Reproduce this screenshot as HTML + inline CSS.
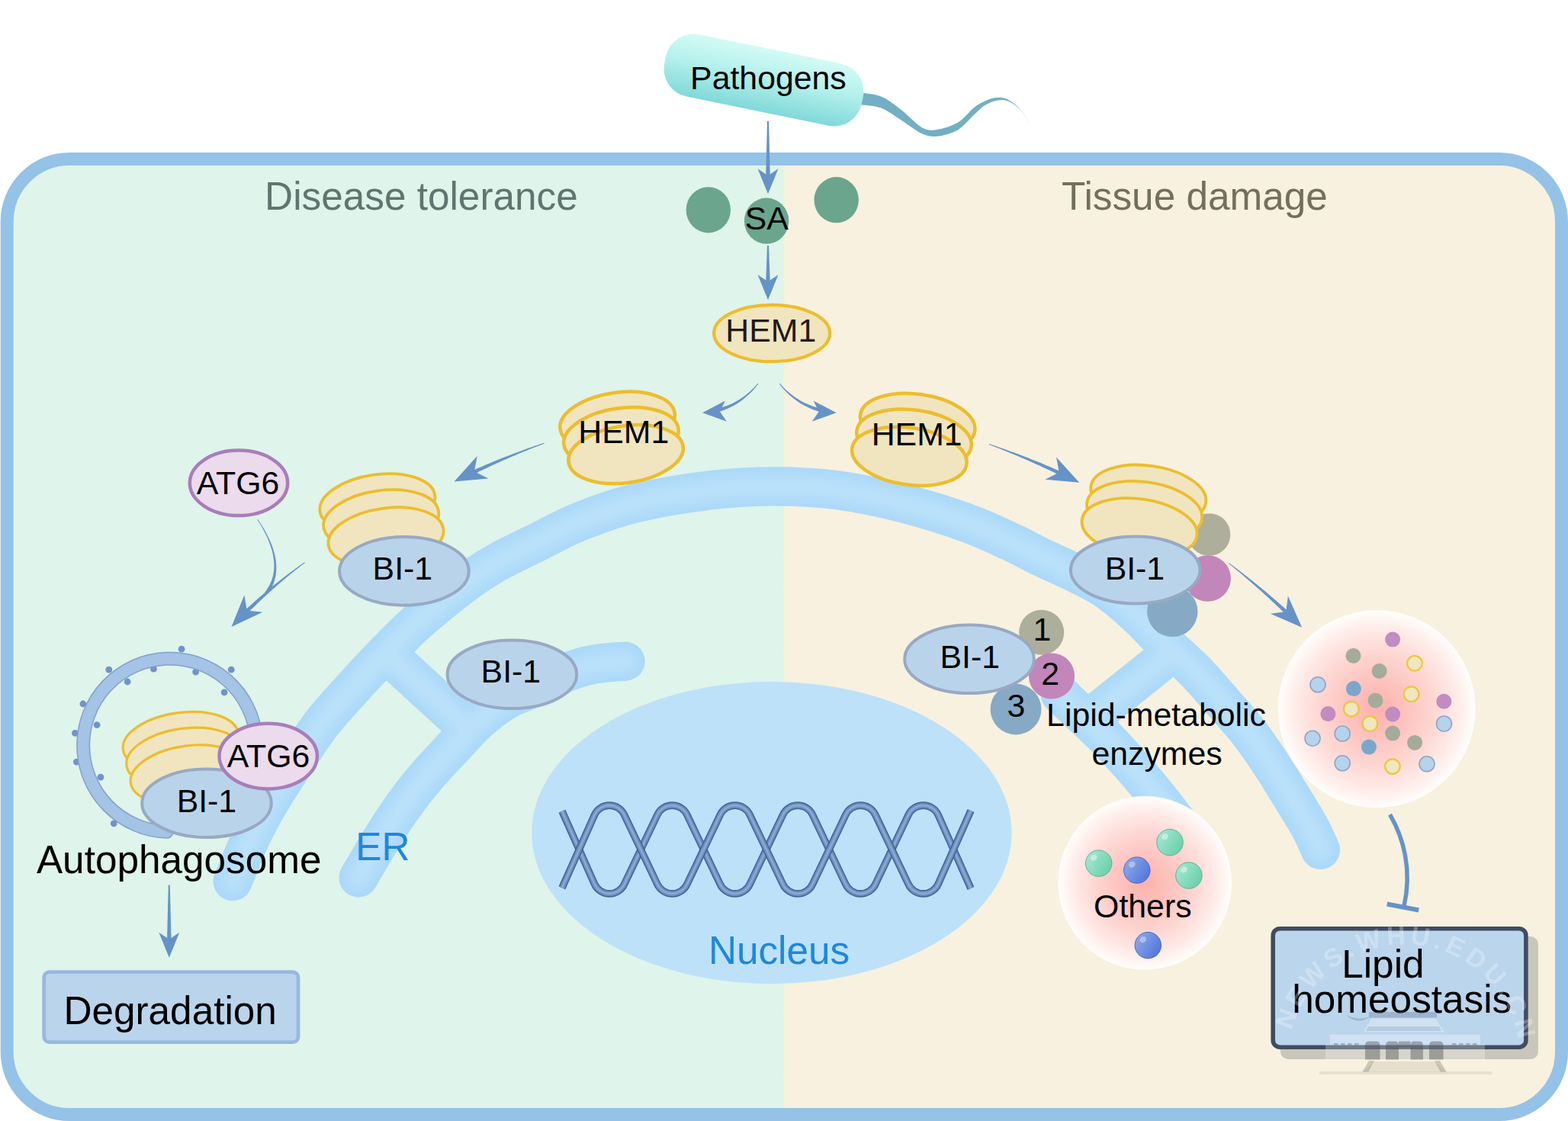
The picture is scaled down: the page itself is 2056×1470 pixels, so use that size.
<!DOCTYPE html>
<html lang="en"><head><meta charset="utf-8"><title>HEM1 model</title>
<style>
html,body{margin:0;padding:0;background:#fff;}
body{width:2056px;height:1470px;overflow:hidden;}
svg{display:block;font-family:"Liberation Sans", sans-serif;}
</style></head><body>
<svg width="2056" height="1470" viewBox="0 0 2056 1470">
<defs>
<clipPath id="cellclip"><rect x="9.5" y="208.5" width="2038" height="1253" rx="82" ry="82"/></clipPath>
<linearGradient id="bact" gradientUnits="userSpaceOnUse" x1="0" y1="-42" x2="0" y2="42">
<stop offset="0" stop-color="#d3fbf6"/><stop offset="0.45" stop-color="#b4f0ec"/><stop offset="1" stop-color="#7fd9d9"/></linearGradient>
<radialGradient id="drop" cx="0.5" cy="0.5" r="0.5">
<stop offset="0" stop-color="#fdb1ab"/><stop offset="0.3" stop-color="#fdc3be"/><stop offset="0.6" stop-color="#fed8d4"/><stop offset="0.85" stop-color="#ffeeeb"/><stop offset="0.96" stop-color="#fffaf8"/><stop offset="1" stop-color="#fffdfc"/></radialGradient>
<linearGradient id="gball" x1="0" y1="0.2" x2="1" y2="0.8">
<stop offset="0" stop-color="#a5e8d2"/><stop offset="1" stop-color="#67cfa9"/></linearGradient>
<linearGradient id="bball" x1="0" y1="0.2" x2="1" y2="0.8">
<stop offset="0" stop-color="#8fa9ea"/><stop offset="1" stop-color="#4f74d9"/></linearGradient>
<linearGradient id="bgsplit" gradientUnits="userSpaceOnUse" x1="1025.5" y1="0" x2="1030" y2="0"><stop offset="0" stop-color="#dff4ea"/><stop offset="1" stop-color="#f8f1df"/></linearGradient>
<filter id="blur5" x="-20%" y="-20%" width="140%" height="140%"><feGaussianBlur stdDeviation="7"/></filter>
<filter id="blur1" x="-20%" y="-20%" width="140%" height="140%"><feGaussianBlur stdDeviation="1.2"/></filter>
</defs>
<g clip-path="url(#cellclip)">
<rect x="0" y="200" width="2056" height="1270" fill="url(#bgsplit)"/>
</g>
<rect x="9.2" y="208.5" width="2038.3" height="1253" rx="82" ry="82" fill="none" stroke="#95c2e7" stroke-width="17"/>
<g fill="none" stroke-linecap="round" stroke-linejoin="round">
<path d="M305.1 1155.7C308.6 1147.1 319.3 1119.5 326.3 1104.1C333.3 1088.7 338.2 1079 347.1 1063.3C356.1 1047.6 367.6 1029 380 1010C392.4 991 407.5 967.3 421.6 949C435.7 930.7 453.5 912.3 464.5 900C475.5 887.7 477.2 885.9 487.4 875.3C497.6 864.6 513.4 847.9 525.5 836.1C537.6 824.3 544.2 817.6 560 804.5C575.8 791.4 603.3 769.4 620 757.5C636.7 745.6 646.2 740.6 660 733C673.8 725.4 685.8 720.2 702.5 712C719.2 703.8 738.4 692.7 760 684C781.6 675.3 803.7 666.8 832 660C860.3 653.2 899.5 646.7 930 643C960.5 639.3 986.7 637.8 1015 637.8C1043.3 637.8 1070.8 639 1100 643C1129.2 647 1161.7 654.2 1190 661.5C1218.3 668.8 1246.9 678.1 1270 686.5C1293.1 694.9 1313 704.8 1328.5 712C1344 719.2 1349.8 723.1 1363 729.5C1376.2 735.9 1393.5 743.2 1408 750.5C1422.5 757.8 1436.3 763.8 1450 773C1463.7 782.2 1477.5 794.7 1490 806C1502.5 817.3 1512.3 828.8 1525 841C1537.7 853.2 1552.8 865.6 1566 879C1579.2 892.4 1591.8 907.7 1604 921.6C1616.2 935.5 1628.4 948.8 1639 962.4C1649.6 976 1658.5 989.7 1667.5 1003.3C1676.5 1016.9 1684.7 1030.5 1693 1044.1C1701.3 1057.7 1711.1 1073.2 1717.5 1084.9C1723.9 1096.6 1729.2 1109.6 1731.5 1114.5" stroke="#acd9f9" stroke-width="51.2"/>
<path d="M470 1151C474.5 1143.4 487.6 1120.6 497 1105.5C506.4 1090.4 515.6 1075.3 526.1 1060.6C536.6 1045.8 548 1031.1 560 1017C572 1002.9 586.9 987.8 598.1 975.9C609.3 964 616.5 955.1 627 945.7C637.5 936.3 651 926 661.4 919.5C671.8 913 678.9 911.5 689.5 906.4C700.1 901.3 712.6 894.3 725 889C737.4 883.7 752.3 877.8 764 874.5C775.7 871.2 785.7 870.2 795 869C804.3 867.8 815.8 867.5 820 867.2" stroke="#acd9f9" stroke-width="51.2"/>
<path d="M1390 910C1393.1 913 1398.9 918.8 1408.8 928.3C1418.7 937.8 1435.2 952.3 1449.4 966.9C1463.6 981.5 1480.4 1000.4 1493.8 1015.9C1507.2 1031.4 1521 1048.5 1530 1060C1539 1071.5 1545 1080.8 1548 1085" stroke="#acd9f9" stroke-width="51.2"/>
<path d="M506 856.4L612 953.5" stroke="#acd9f9" stroke-width="52.5" stroke-linecap="butt"/>
<path d="M1537.4 855.4L1426.5 944" stroke="#acd9f9" stroke-width="52.2" stroke-linecap="butt"/>
<g filter="url(#blur5)">
<path d="M305.1 1155.7C308.6 1147.1 319.3 1119.5 326.3 1104.1C333.3 1088.7 338.2 1079 347.1 1063.3C356.1 1047.6 367.6 1029 380 1010C392.4 991 407.5 967.3 421.6 949C435.7 930.7 453.5 912.3 464.5 900C475.5 887.7 477.2 885.9 487.4 875.3C497.6 864.6 513.4 847.9 525.5 836.1C537.6 824.3 544.2 817.6 560 804.5C575.8 791.4 603.3 769.4 620 757.5C636.7 745.6 646.2 740.6 660 733C673.8 725.4 685.8 720.2 702.5 712C719.2 703.8 738.4 692.7 760 684C781.6 675.3 803.7 666.8 832 660C860.3 653.2 899.5 646.7 930 643C960.5 639.3 986.7 637.8 1015 637.8C1043.3 637.8 1070.8 639 1100 643C1129.2 647 1161.7 654.2 1190 661.5C1218.3 668.8 1246.9 678.1 1270 686.5C1293.1 694.9 1313 704.8 1328.5 712C1344 719.2 1349.8 723.1 1363 729.5C1376.2 735.9 1393.5 743.2 1408 750.5C1422.5 757.8 1436.3 763.8 1450 773C1463.7 782.2 1477.5 794.7 1490 806C1502.5 817.3 1512.3 828.8 1525 841C1537.7 853.2 1552.8 865.6 1566 879C1579.2 892.4 1591.8 907.7 1604 921.6C1616.2 935.5 1628.4 948.8 1639 962.4C1649.6 976 1658.5 989.7 1667.5 1003.3C1676.5 1016.9 1684.7 1030.5 1693 1044.1C1701.3 1057.7 1711.1 1073.2 1717.5 1084.9C1723.9 1096.6 1729.2 1109.6 1731.5 1114.5" stroke="#bbe1fa" stroke-width="25.6"/>
<path d="M470 1151C474.5 1143.4 487.6 1120.6 497 1105.5C506.4 1090.4 515.6 1075.3 526.1 1060.6C536.6 1045.8 548 1031.1 560 1017C572 1002.9 586.9 987.8 598.1 975.9C609.3 964 616.5 955.1 627 945.7C637.5 936.3 651 926 661.4 919.5C671.8 913 678.9 911.5 689.5 906.4C700.1 901.3 712.6 894.3 725 889C737.4 883.7 752.3 877.8 764 874.5C775.7 871.2 785.7 870.2 795 869C804.3 867.8 815.8 867.5 820 867.2" stroke="#bbe1fa" stroke-width="25.6"/>
<path d="M1390 910C1393.1 913 1398.9 918.8 1408.8 928.3C1418.7 937.8 1435.2 952.3 1449.4 966.9C1463.6 981.5 1480.4 1000.4 1493.8 1015.9C1507.2 1031.4 1521 1048.5 1530 1060C1539 1071.5 1545 1080.8 1548 1085" stroke="#bbe1fa" stroke-width="25.6"/>
<path d="M506 856.4L612 953.5" stroke="#bbe1fa" stroke-width="26.2"/>
<path d="M1537.4 855.4L1426.5 944" stroke="#bbe1fa" stroke-width="26.1"/>
</g></g>
<ellipse cx="1011.9" cy="1092" rx="314.7" ry="198.1" fill="#bde1f9"/>
<g fill="none">
<path d="M737 1063.7L779.5 1159.2A21.5 21.5 0 0 0 818.7 1159.2L861.8 1068.8A21.5 21.5 0 0 1 901 1068.8L944.1 1159.2A21.5 21.5 0 0 0 983.3 1159.2L1026.4 1068.8A21.5 21.5 0 0 1 1065.6 1068.8L1108.7 1159.2A21.5 21.5 0 0 0 1147.9 1159.2L1191 1068.8A21.5 21.5 0 0 1 1230.2 1068.8L1273 1165" stroke="#3f6498" stroke-width="9.6"/>
<path d="M737 1063.7L779.5 1159.2A21.5 21.5 0 0 0 818.7 1159.2L861.8 1068.8A21.5 21.5 0 0 1 901 1068.8L944.1 1159.2A21.5 21.5 0 0 0 983.3 1159.2L1026.4 1068.8A21.5 21.5 0 0 1 1065.6 1068.8L1108.7 1159.2A21.5 21.5 0 0 0 1147.9 1159.2L1191 1068.8A21.5 21.5 0 0 1 1230.2 1068.8L1273 1165" stroke="#6d8fbe" stroke-width="6.6"/>
<path d="M737 1063.7L779.5 1159.2A21.5 21.5 0 0 0 818.7 1159.2L861.8 1068.8A21.5 21.5 0 0 1 901 1068.8L944.1 1159.2A21.5 21.5 0 0 0 983.3 1159.2L1026.4 1068.8A21.5 21.5 0 0 1 1065.6 1068.8L1108.7 1159.2A21.5 21.5 0 0 0 1147.9 1159.2L1191 1068.8A21.5 21.5 0 0 1 1230.2 1068.8L1273 1165" stroke="#8aa9d3" stroke-width="2.6"/>
<path d="M737 1164.3L779.5 1068.8A21.5 21.5 0 0 1 818.7 1068.8L861.8 1159.2A21.5 21.5 0 0 0 901 1159.2L944.1 1068.8A21.5 21.5 0 0 1 983.3 1068.8L1026.4 1159.2A21.5 21.5 0 0 0 1065.6 1159.2L1108.7 1068.8A21.5 21.5 0 0 1 1147.9 1068.8L1191 1159.2A21.5 21.5 0 0 0 1230.2 1159.2L1273 1063" stroke="#3f6498" stroke-width="9.6"/>
<path d="M737 1164.3L779.5 1068.8A21.5 21.5 0 0 1 818.7 1068.8L861.8 1159.2A21.5 21.5 0 0 0 901 1159.2L944.1 1068.8A21.5 21.5 0 0 1 983.3 1068.8L1026.4 1159.2A21.5 21.5 0 0 0 1065.6 1159.2L1108.7 1068.8A21.5 21.5 0 0 1 1147.9 1068.8L1191 1159.2A21.5 21.5 0 0 0 1230.2 1159.2L1273 1063" stroke="#6d8fbe" stroke-width="6.6"/>
<path d="M737 1164.3L779.5 1068.8A21.5 21.5 0 0 1 818.7 1068.8L861.8 1159.2A21.5 21.5 0 0 0 901 1159.2L944.1 1068.8A21.5 21.5 0 0 1 983.3 1068.8L1026.4 1159.2A21.5 21.5 0 0 0 1065.6 1159.2L1108.7 1068.8A21.5 21.5 0 0 1 1147.9 1068.8L1191 1159.2A21.5 21.5 0 0 0 1230.2 1159.2L1273 1063" stroke="#8aa9d3" stroke-width="2.6"/>
</g>
<text x="928.9" y="1264.3" font-size="51.3" fill="#1e88dc" text-anchor="start">Nucleus</text>
<text x="466.2" y="1127.8" font-size="51.3" fill="#1e88dc" text-anchor="start">ER</text>
<text x="347.1" y="275" font-size="51.3" fill="#62746f" text-anchor="start">Disease tolerance</text>
<text x="1392" y="275" font-size="51.3" fill="#736f5e" text-anchor="start">Tissue damage</text>
<path d="M1124 121.6C1129.1 122.4 1144.9 122.6 1154.5 126.3C1164.1 130 1172.6 137.2 1181.7 144C1190.8 150.8 1201 162.9 1208.9 167.2C1216.9 171.5 1221.5 171.1 1229.4 169.9C1237.4 168.8 1248.7 165.1 1256.6 160.3C1264.5 155.5 1271.3 145.8 1277 141.3C1282.7 136.8 1286.2 135.3 1290.7 133.1C1295.2 130.9 1299.8 129 1304.3 128.3C1308.8 127.6 1313.4 127.5 1317.9 129C1322.4 130.5 1327.4 133.8 1331.5 137.2C1335.6 140.6 1339.3 145.4 1342.4 149.5C1345.5 153.6 1348.7 159.9 1350 162L1350 162C1348.7 160 1345.5 153.8 1342.4 149.9C1339.3 146 1335.6 141.4 1331.5 138.3C1327.4 135.2 1322.4 132.5 1317.9 131.5C1313.4 130.5 1308.8 131.2 1304.3 132.4C1299.8 133.6 1295.2 135.5 1290.7 138.6C1286.2 141.7 1282.7 145.6 1277 150.8C1271.3 156 1264.5 165.2 1256.6 169.9C1248.7 174.6 1237.4 177.8 1229.4 178.7C1221.5 179.6 1216.9 178.8 1208.9 175.3C1201 171.8 1190.8 163.3 1181.7 157.6C1172.6 151.9 1164.1 144.7 1154.5 141.3C1144.9 137.9 1129.1 137.7 1124 137Z" fill="#72afc4"/>
<g transform="translate(1001.5 105) rotate(11.6)"><rect x="-132" y="-41.5" width="264" height="83" rx="37" ry="37" fill="url(#bact)"/></g>
<text x="905.1" y="117" font-size="42.8" fill="#000" text-anchor="start">Pathogens</text>
<ellipse cx="928.8" cy="275.3" rx="29.2" ry="30.1" fill="#6ba58e"/>
<ellipse cx="1005.1" cy="289.7" rx="29.2" ry="30.1" fill="#6ba58e"/>
<ellipse cx="1096.7" cy="262.2" rx="29.2" ry="30.1" fill="#6ba58e"/>
<text x="976.8" y="300.6" font-size="42.8" fill="#000" text-anchor="start">SA</text>
<g fill="#6593c8"><path d="M1006 158.7L1005.9 161.8L1005.9 164.8L1005.8 167.9L1005.7 171L1005.6 174L1005.6 177.1L1005.5 180.2L1005.4 183.2L1005.3 186.3L1005.3 189.4L1005.2 192.4L1005.1 195.5L1005 198.6L1005 201.6L1004.9 204.7L1004.8 207.8L1004.7 210.8L1004.6 213.9L1004.6 217L1004.5 220L1004.4 223.1L1004.4 226.2L1004.3 229.2L1004.2 232.3L1009.8 232.3L1009.7 229.2L1009.6 226.2L1009.6 223.1L1009.5 220L1009.4 217L1009.4 213.9L1009.3 210.8L1009.2 207.8L1009.1 204.7L1009 201.6L1009 198.6L1008.9 195.5L1008.8 192.4L1008.8 189.4L1008.7 186.3L1008.6 183.2L1008.5 180.2L1008.5 177.1L1008.4 174L1008.3 171L1008.2 167.9L1008.1 164.8L1008.1 161.8L1008 158.7Z"/><path d="M1007 254.3L993.5 221.3L1007 230.3L1020.5 221.3Z"/></g>
<g fill="#6593c8"><path d="M1006 322L1005.9 324.1L1005.9 326.1L1005.8 328.2L1005.7 330.3L1005.6 332.3L1005.5 334.4L1005.5 336.5L1005.4 338.5L1005.3 340.6L1005.2 342.6L1005.2 344.7L1005.1 346.8L1005 348.8L1005 350.9L1004.9 353L1004.8 355L1004.7 357.1L1004.6 359.2L1004.6 361.2L1004.5 363.3L1004.4 365.4L1004.4 367.4L1004.3 369.5L1004.2 371.6L1009.8 371.6L1009.7 369.5L1009.6 367.4L1009.6 365.4L1009.5 363.3L1009.4 361.2L1009.4 359.2L1009.3 357.1L1009.2 355L1009.1 353L1009.1 350.9L1009 348.8L1008.9 346.8L1008.8 344.7L1008.7 342.6L1008.7 340.6L1008.6 338.5L1008.5 336.5L1008.5 334.4L1008.4 332.3L1008.3 330.3L1008.2 328.2L1008.2 326.1L1008.1 324.1L1008 322Z"/><path d="M1007 393.3L993.5 360.3L1007 369.3L1020.5 360.3Z"/></g>
<ellipse cx="1012.1" cy="437" rx="76" ry="37.2" fill="#f0e5bf" stroke="#ecbd2e" stroke-width="4.2"/>
<text x="951.3" y="447.8" font-size="42.8" fill="#231815" text-anchor="start">HEM1</text>
<g fill="#6593c8"><path d="M993.6 502.7L991.8 504.8L989.9 506.9L988 508.9L986 510.8L984.1 512.7L982.1 514.5L980 516.2L978 517.9L975.9 519.5L973.8 521L971.6 522.5L969.4 523.9L967.2 525.2L965 526.5L962.7 527.7L960.4 528.9L958.1 529.9L955.7 531L953.3 531.9L950.9 532.8L948.5 533.6L946 534.4L943.5 535.1L941 535.7L942.2 540.1L944.8 539.3L947.3 538.5L949.9 537.5L952.4 536.5L954.8 535.5L957.2 534.3L959.6 533.1L962 531.9L964.3 530.6L966.6 529.2L968.8 527.7L971 526.2L973.1 524.7L975.3 523L977.3 521.3L979.4 519.6L981.4 517.8L983.3 515.9L985.3 513.9L987.2 511.9L989 509.9L990.9 507.7L992.6 505.6L994.4 503.3Z"/><path d="M921 541.3L951 525.5L943.9 539.7L952.9 552.7Z"/></g>
<g fill="#6593c8"><path d="M1021.6 503.3L1023.4 505.6L1025.3 507.8L1027.2 509.9L1029.1 512L1031.1 514L1033.1 516L1035.1 517.9L1037.2 519.7L1039.3 521.5L1041.5 523.2L1043.7 524.8L1045.9 526.4L1048.2 527.9L1050.5 529.4L1052.8 530.7L1055.2 532.1L1057.6 533.3L1060 534.5L1062.5 535.6L1065.1 536.7L1067.6 537.7L1070.2 538.6L1072.9 539.5L1075.5 540.3L1076.7 535.8L1074.1 535.2L1071.5 534.5L1069 533.8L1066.5 532.9L1064 532.1L1061.5 531.1L1059.1 530.1L1056.7 529L1054.3 527.9L1052 526.7L1049.7 525.4L1047.4 524L1045.2 522.6L1042.9 521.2L1040.8 519.6L1038.6 518L1036.5 516.3L1034.4 514.6L1032.3 512.8L1030.2 510.9L1028.2 508.9L1026.3 506.9L1024.3 504.8L1022.4 502.7Z"/><path d="M1096.6 541.3L1064.7 552.7L1073.7 539.7L1066.6 525.6Z"/></g>
<ellipse cx="809.6" cy="552.2" rx="75.8" ry="37.4" fill="#f0e5bf" stroke="#ecbd2e" stroke-width="4.5" transform="rotate(-8 809.6 552.2)"/>
<ellipse cx="814.4" cy="572.6" rx="75.8" ry="37.4" fill="#f0e5bf" stroke="#ecbd2e" stroke-width="4.5" transform="rotate(-8 814.4 572.6)"/>
<ellipse cx="820.6" cy="595.7" rx="75.8" ry="37.4" fill="#f0e5bf" stroke="#ecbd2e" stroke-width="4.5" transform="rotate(-8 820.6 595.7)"/>
<text x="758.3" y="581.4" font-size="42.8" fill="#000" text-anchor="start">HEM1</text>
<ellipse cx="1203.2" cy="554.3" rx="75.8" ry="37.4" fill="#f0e5bf" stroke="#ecbd2e" stroke-width="4.5" transform="rotate(8 1203.2 554.3)"/>
<ellipse cx="1198.5" cy="575.1" rx="75.8" ry="37.4" fill="#f0e5bf" stroke="#ecbd2e" stroke-width="4.5" transform="rotate(8 1198.5 575.1)"/>
<ellipse cx="1192.3" cy="598.3" rx="75.8" ry="37.4" fill="#f0e5bf" stroke="#ecbd2e" stroke-width="4.5" transform="rotate(8 1192.3 598.3)"/>
<text x="1142.7" y="584.1" font-size="42.8" fill="#000" text-anchor="start">HEM1</text>
<g fill="#6593c8"><path d="M713.3 580.7L709.3 582.1L705.3 583.4L701.3 584.8L697.3 586.2L693.3 587.6L689.3 589.1L685.4 590.5L681.4 592L677.4 593.4L673.5 594.9L669.5 596.4L665.6 598L661.6 599.5L657.7 601.1L653.8 602.6L649.8 604.2L645.9 605.8L642 607.5L638.1 609.1L634.2 610.7L630.3 612.4L626.4 614.1L622.6 615.8L618.7 617.5L620.8 622.1L624.6 620.2L628.4 618.3L632.2 616.5L636 614.7L639.8 612.9L643.6 611.1L647.5 609.3L651.3 607.6L655.1 605.9L659 604.1L662.8 602.4L666.7 600.7L670.6 599.1L674.5 597.4L678.3 595.8L682.2 594.1L686.1 592.5L690.1 590.9L694 589.3L697.9 587.8L701.8 586.2L705.8 584.7L709.7 583.2L713.7 581.7Z"/><path d="M595.5 631.6L625.7 598.1L621.9 618.3L640.4 627.4Z"/></g>
<g fill="#6593c8"><path d="M1296.7 583.1L1300.7 584.6L1304.7 586.1L1308.6 587.6L1312.5 589.1L1316.5 590.7L1320.4 592.3L1324.3 593.9L1328.2 595.5L1332.1 597.1L1336 598.7L1339.9 600.4L1343.8 602.1L1347.7 603.7L1351.5 605.4L1355.4 607.2L1359.3 608.9L1363.1 610.6L1366.9 612.4L1370.8 614.2L1374.6 616L1378.4 617.8L1382.2 619.6L1386 621.4L1389.8 623.3L1391.9 618.8L1388.1 617.1L1384.2 615.4L1380.3 613.7L1376.4 612L1372.5 610.4L1368.5 608.7L1364.6 607.1L1360.7 605.5L1356.8 603.9L1352.8 602.4L1348.9 600.8L1344.9 599.3L1341 597.8L1337 596.3L1333.1 594.8L1329.1 593.3L1325.1 591.9L1321.1 590.4L1317.1 589L1313.1 587.6L1309.1 586.2L1305.1 584.8L1301.1 583.5L1297.1 582.1Z"/><path d="M1415.2 632.8L1370.3 628.7L1388.8 619.6L1385 599.4Z"/></g>
<ellipse cx="313" cy="633.3" rx="64.2" ry="42.8" fill="#ebdbec" stroke="#a87eb9" stroke-width="4.5"/><text x="257.7" y="647.7" font-size="42.8" fill="#000" text-anchor="start">ATG6</text>
<path d="M337.3 681.2L340.4 686.2L343.3 691.1L346 695.9L348.4 700.7L350.6 705.3L352.5 709.9L354.2 714.4L355.6 718.8L356.9 723.1L357.9 727.3L358.6 731.4L359.1 735.4L359.4 739.3L359.4 743.2L359.2 746.9L358.8 750.6L358.2 754.1L357.3 757.6L356.2 761L354.8 764.3L353.3 767.5L351.5 770.6L349.5 773.7L347.3 776.7L350.7 779.3L353 776.1L355 772.7L356.8 769.3L358.4 765.8L359.6 762.2L360.7 758.5L361.5 754.8L362 751L362.3 747.1L362.3 743.2L362.1 739.2L361.7 735.1L361 731L360.1 726.8L358.9 722.5L357.6 718.1L355.9 713.7L354.1 709.2L352 704.7L349.6 700L347.1 695.3L344.2 690.6L341.2 685.7L337.9 680.8Z" fill="#6593c8"/>
<g fill="#6593c8"><path d="M399.4 737.2L395.9 739.6L392.5 742.1L389 744.5L385.6 747L382.2 749.5L378.8 752.1L375.5 754.6L372.1 757.2L368.8 759.8L365.4 762.4L362.1 765L358.8 767.6L355.6 770.3L352.3 773L349.1 775.7L345.8 778.4L342.6 781.2L339.4 783.9L336.3 786.7L333.1 789.5L330 792.4L326.8 795.2L323.7 798.1L320.6 801L324.1 804.6L327.1 801.6L330.1 798.6L333.1 795.7L336.1 792.7L339.1 789.8L342.1 786.9L345.2 784L348.3 781.2L351.4 778.3L354.5 775.5L357.6 772.7L360.8 769.9L363.9 767.2L367.1 764.4L370.3 761.7L373.6 759L376.8 756.3L380.1 753.6L383.3 751L386.6 748.3L389.9 745.7L393.3 743.1L396.6 740.6L400 738Z"/><path d="M303.5 822L320.4 780.2L323.8 800.6L344.3 802.7Z"/></g>
<ellipse cx="494.9" cy="660" rx="76.1" ry="37.7" fill="#f0e5bf" stroke="#ecbd2e" stroke-width="3.8" transform="rotate(-8 494.9 660)"/>
<ellipse cx="499.7" cy="681" rx="76.1" ry="37.7" fill="#f0e5bf" stroke="#ecbd2e" stroke-width="3.8" transform="rotate(-8 499.7 681)"/>
<ellipse cx="506" cy="704.1" rx="76.1" ry="37.7" fill="#f0e5bf" stroke="#ecbd2e" stroke-width="3.8" transform="rotate(-8 506 704.1)"/>
<ellipse cx="529.9" cy="748.9" rx="84.8" ry="44.8" fill="#b9d4ea" stroke="#98a9c3" stroke-width="4"/><text x="488.6" y="760.2" font-size="42.8" fill="#000" text-anchor="start">BI-1</text>
<ellipse cx="671.4" cy="884.3" rx="84.8" ry="44.8" fill="#b9d4ea" stroke="#98a9c3" stroke-width="4"/><text x="630.6" y="895.2" font-size="42.8" fill="#000" text-anchor="start">BI-1</text>
<circle cx="238.1" cy="851.2" r="4.4" fill="#6f94c9"/>
<circle cx="142.8" cy="878.2" r="4.4" fill="#6f94c9"/>
<circle cx="201.4" cy="877.2" r="4.4" fill="#6f94c9"/>
<circle cx="256.6" cy="881.1" r="4.4" fill="#6f94c9"/>
<circle cx="303.2" cy="878.2" r="4.4" fill="#6f94c9"/>
<circle cx="167.1" cy="894" r="4.4" fill="#6f94c9"/>
<circle cx="294.1" cy="907.8" r="4.4" fill="#6f94c9"/>
<circle cx="108.9" cy="923" r="4.4" fill="#6f94c9"/>
<circle cx="127.1" cy="950.6" r="4.4" fill="#6f94c9"/>
<circle cx="98.5" cy="961.4" r="4.4" fill="#6f94c9"/>
<circle cx="100.4" cy="999.1" r="4.4" fill="#6f94c9"/>
<circle cx="132" cy="1019.2" r="4.4" fill="#6f94c9"/>
<circle cx="149.2" cy="1079.8" r="4.4" fill="#6f94c9"/>
<path d="M335.9 967.4A113.6 113.6 0 1 0 218.7 1090.8" fill="none" stroke="#7fa2cf" stroke-width="18" stroke-linecap="round"/>
<path d="M335.9 967.4A113.6 113.6 0 1 0 218.7 1090.8" fill="none" stroke="#a5c3e4" stroke-width="15" stroke-linecap="round"/>
<ellipse cx="237" cy="972.5" rx="76.4" ry="38" fill="#f0e5bf" stroke="#ecbd2e" stroke-width="3.2" transform="rotate(-8 237 972.5)"/>
<ellipse cx="241.6" cy="993.3" rx="76.4" ry="38" fill="#f0e5bf" stroke="#ecbd2e" stroke-width="3.2" transform="rotate(-8 241.6 993.3)"/>
<ellipse cx="247" cy="1016" rx="76.4" ry="38" fill="#f0e5bf" stroke="#ecbd2e" stroke-width="3.2" transform="rotate(-8 247 1016)"/>
<ellipse cx="271" cy="1053.2" rx="84.8" ry="44.8" fill="#b9d4ea" stroke="#98a9c3" stroke-width="4"/><text x="231.7" y="1064.6" font-size="42.8" fill="#000" text-anchor="start">BI-1</text>
<ellipse cx="351.7" cy="991.6" rx="64.2" ry="42.8" fill="#ebdbec" stroke="#a87eb9" stroke-width="4.5"/><text x="297.7" y="1006.4" font-size="42.8" fill="#000" text-anchor="start">ATG6</text>
<text x="47.9" y="1144.9" font-size="51.3" fill="#000" text-anchor="start">Autophagosome</text>
<g fill="#6593c8"><path d="M220.8 1160.6L220.7 1163.7L220.7 1166.7L220.6 1169.8L220.5 1172.8L220.4 1175.9L220.4 1178.9L220.3 1182L220.2 1185L220.1 1188.1L220.1 1191.1L220 1194.2L219.9 1197.3L219.8 1200.3L219.8 1203.4L219.7 1206.4L219.6 1209.5L219.5 1212.5L219.5 1215.6L219.4 1218.6L219.3 1221.7L219.2 1224.7L219.2 1227.8L219.1 1230.8L219 1233.9L224.6 1233.9L224.5 1230.8L224.5 1227.8L224.4 1224.7L224.3 1221.7L224.2 1218.6L224.2 1215.6L224.1 1212.5L224 1209.5L223.9 1206.4L223.9 1203.4L223.8 1200.3L223.7 1197.3L223.6 1194.2L223.6 1191.1L223.5 1188.1L223.4 1185L223.3 1182L223.2 1178.9L223.2 1175.9L223.1 1172.8L223 1169.8L223 1166.7L222.9 1163.7L222.8 1160.6Z"/><path d="M221.8 1255.8L208.3 1222.8L221.8 1231.8L235.3 1222.8Z"/></g>
<rect x="57.7" y="1274.7" width="333.3" height="92" rx="7" ry="7" fill="#bad4ec" stroke="#98b9de" stroke-width="4.8"/>
<text x="83.4" y="1343" font-size="51.3" fill="#000" text-anchor="start">Degradation</text>
<circle cx="1585.5" cy="701" r="27.8" fill="#adae9c"/>
<ellipse cx="1505.8" cy="648.4" rx="76.1" ry="37.7" fill="#f0e5bf" stroke="#ecbd2e" stroke-width="3.8" transform="rotate(8 1505.8 648.4)"/>
<ellipse cx="1500.6" cy="669.8" rx="76.1" ry="37.7" fill="#f0e5bf" stroke="#ecbd2e" stroke-width="3.8" transform="rotate(8 1500.6 669.8)"/>
<ellipse cx="1494.1" cy="692" rx="76.1" ry="37.7" fill="#f0e5bf" stroke="#ecbd2e" stroke-width="3.8" transform="rotate(8 1494.1 692)"/>
<circle cx="1583.6" cy="758.5" r="30.3" fill="#c286ba"/>
<circle cx="1537.3" cy="801.9" r="33.2" fill="#86a9c6"/>
<ellipse cx="1488.7" cy="747.5" rx="84.8" ry="44" fill="#b9d4ea" stroke="#98a9c3" stroke-width="4"/><text x="1448.7" y="759.6" font-size="42.8" fill="#000" text-anchor="start">BI-1</text>
<g fill="#6593c8"><path d="M1611 739L1614.3 741.6L1617.5 744.3L1620.8 747L1624 749.6L1627.2 752.3L1630.4 755L1633.6 757.7L1636.8 760.5L1640 763.2L1643.1 766L1646.3 768.7L1649.4 771.5L1652.6 774.3L1655.7 777.1L1658.8 779.9L1661.9 782.8L1664.9 785.6L1668 788.5L1671.1 791.3L1674.1 794.2L1677.1 797.1L1680.1 800L1683.1 802.9L1686.1 805.9L1689.6 802.2L1686.5 799.4L1683.3 796.6L1680.2 793.8L1677 791L1673.9 788.2L1670.7 785.5L1667.5 782.7L1664.3 780L1661.1 777.3L1657.9 774.6L1654.6 771.9L1651.4 769.2L1648.1 766.6L1644.9 763.9L1641.6 761.3L1638.3 758.7L1635 756.1L1631.7 753.5L1628.4 750.9L1625 748.3L1621.7 745.8L1618.3 743.2L1615 740.7L1611.6 738.2Z"/><path d="M1707.1 822.7L1665.8 804.7L1686.2 801.9L1688.9 781.4Z"/></g>
<circle cx="1365.7" cy="829.2" r="29.5" fill="#adae9c"/>
<circle cx="1332" cy="930" r="33.4" fill="#86a9c6"/>
<circle cx="1379" cy="886.5" r="30.1" fill="#c286ba"/>
<ellipse cx="1271" cy="864.3" rx="84.8" ry="44.8" fill="#b9d4ea" stroke="#98a9c3" stroke-width="4"/><text x="1232.5" y="875.6" font-size="42.8" fill="#000" text-anchor="start">BI-1</text>
<text x="1354.5" y="840" font-size="42.8" fill="#000" text-anchor="start">1</text>
<text x="1365.3" y="897.6" font-size="42.8" fill="#000" text-anchor="start">2</text>
<text x="1320.6" y="939.8" font-size="42.8" fill="#000" text-anchor="start">3</text>
<text x="1372.1" y="952" font-size="42.8" fill="#000" text-anchor="start">Lipid-metabolic</text>
<text x="1431.4" y="1002.6" font-size="42.8" fill="#000" text-anchor="start">enzymes</text>
<circle cx="1805.1" cy="929.8" r="129.5" fill="url(#drop)"/>
<circle cx="1826.1" cy="838.6" r="10" fill="#c08cc1"/>
<circle cx="1893.3" cy="919.8" r="10" fill="#c08cc1"/>
<circle cx="1741.4" cy="936.1" r="10" fill="#c08cc1"/>
<circle cx="1826.1" cy="936.5" r="10" fill="#c08cc1"/>
<circle cx="1774.5" cy="860" r="10" fill="#a4ab9b"/>
<circle cx="1808.6" cy="880" r="10" fill="#a4ab9b"/>
<circle cx="1803.5" cy="918.4" r="10" fill="#a4ab9b"/>
<circle cx="1826.1" cy="961.6" r="10" fill="#a4ab9b"/>
<circle cx="1855.1" cy="973.9" r="10" fill="#a4ab9b"/>
<circle cx="1774.9" cy="903.1" r="10" fill="#7ba6cc"/>
<circle cx="1794.9" cy="979.6" r="10" fill="#7ba6cc"/>
<circle cx="1728" cy="897.8" r="10" fill="#b6d3ec" stroke="#8fa5c6" stroke-width="1.6"/>
<circle cx="1893.5" cy="949" r="10" fill="#b6d3ec" stroke="#8fa5c6" stroke-width="1.6"/>
<circle cx="1721" cy="968.2" r="10" fill="#b6d3ec" stroke="#8fa5c6" stroke-width="1.6"/>
<circle cx="1760.2" cy="962" r="10" fill="#b6d3ec" stroke="#8fa5c6" stroke-width="1.6"/>
<circle cx="1760.2" cy="1000.8" r="10" fill="#b6d3ec" stroke="#8fa5c6" stroke-width="1.6"/>
<circle cx="1871" cy="1001.8" r="10" fill="#b6d3ec" stroke="#8fa5c6" stroke-width="1.6"/>
<circle cx="1854.9" cy="869.8" r="9.8" fill="#f0e6bf" stroke="#ebc83c" stroke-width="2.2"/>
<circle cx="1850.6" cy="910.2" r="9.8" fill="#f0e6bf" stroke="#ebc83c" stroke-width="2.2"/>
<circle cx="1771.8" cy="929.6" r="9.8" fill="#f0e6bf" stroke="#ebc83c" stroke-width="2.2"/>
<circle cx="1796.3" cy="949" r="9.8" fill="#f0e6bf" stroke="#ebc83c" stroke-width="2.2"/>
<circle cx="1825.9" cy="1005.1" r="9.8" fill="#f0e6bf" stroke="#ebc83c" stroke-width="2.2"/>
<circle cx="1501.2" cy="1157.8" r="113.8" fill="url(#drop)"/>
<circle cx="1534" cy="1104.6" r="17.2" fill="url(#gball)" stroke="#5fae93" stroke-width="1"/>
<ellipse cx="1527.5" cy="1097.1" rx="4.6" ry="3.8" fill="#c9f3e4" opacity="0.8" transform="rotate(-35 1527.5 1097.1)"/>
<circle cx="1440.7" cy="1132.1" r="17.2" fill="url(#gball)" stroke="#5fae93" stroke-width="1"/>
<ellipse cx="1434.2" cy="1124.6" rx="4.6" ry="3.8" fill="#c9f3e4" opacity="0.8" transform="rotate(-35 1434.2 1124.6)"/>
<circle cx="1558.9" cy="1148" r="17.2" fill="url(#gball)" stroke="#5fae93" stroke-width="1"/>
<ellipse cx="1552.4" cy="1140.5" rx="4.6" ry="3.8" fill="#c9f3e4" opacity="0.8" transform="rotate(-35 1552.4 1140.5)"/>
<circle cx="1490.8" cy="1141.1" r="17.2" fill="url(#bball)" stroke="#4a68c0" stroke-width="1"/>
<ellipse cx="1484.3" cy="1133.6" rx="4.6" ry="3.8" fill="#b9c8f2" opacity="0.8" transform="rotate(-35 1484.3 1133.6)"/>
<circle cx="1505.3" cy="1239.6" r="17.2" fill="url(#bball)" stroke="#4a68c0" stroke-width="1"/>
<ellipse cx="1498.8" cy="1232.1" rx="4.6" ry="3.8" fill="#b9c8f2" opacity="0.8" transform="rotate(-35 1498.8 1232.1)"/>
<text x="1434.1" y="1203" font-size="42.8" fill="#000" text-anchor="start">Others</text>
<path d="M1822.5 1068.1 C1840 1098 1852 1140 1841 1188" fill="none" stroke="#6593c8" stroke-width="5.5"/>
<path d="M1818.7 1185.5 L1860.3 1193.5" fill="none" stroke="#6593c8" stroke-width="6"/>
<rect x="1679" y="1228" width="338" height="161" rx="10" ry="10" fill="#9a9d98" opacity="0.5"/>
<rect x="1669.2" y="1217.7" width="331.7" height="155.5" rx="9" ry="9" fill="#bad5ec" stroke="#3f4c61" stroke-width="5.6"/>
<text x="1759.2" y="1281.6" font-size="51.3" fill="#000" text-anchor="start">Lipid</text>
<text x="1694.3" y="1328.2" font-size="51.3" fill="#000" text-anchor="start">homeostasis</text>
<path id="wmarc" d="M1692.1 1358A152.5 152.5 0 0 1 1992.7 1375.1" fill="none"/>
<g opacity="0.28">
<text font-size="34" font-weight="bold" fill="#fff" letter-spacing="5.6"><textPath href="#wmarc" startOffset="50%" text-anchor="middle">NEWS.WHU.EDU.CN</textPath></text>
</g>
<g>
<rect x="1795" y="1327" width="89" height="7.5" fill="#5d7191" opacity="0.32"/>
<path d="M1765 1331 Q1780 1345 1797 1333 Q1781 1339 1765 1331Z" fill="#5d7191" opacity="0.3"/>
<path d="M1798 1335.5 L1882.5 1335.5 L1894 1353.5 L1788 1353.5Z" fill="#fff" opacity="0.3"/>
<path d="M1794 1346 L1887 1346 L1890 1352 L1791 1352Z" fill="#7f93b0" opacity="0.28"/>
<rect x="1744" y="1356.5" width="197" height="13" fill="#fff" opacity="0.3"/>
<rect x="1738" y="1369.5" width="209" height="20" fill="#fff" opacity="0.26"/>
<path d="M1790 1389.5 L1790 1371 Q1790 1365.5 1795 1365.5 L1804.5 1365.5 Q1809.5 1365.5 1809.5 1371 L1809.5 1389.5Z" fill="#4d4f50" opacity="0.42"/>
<path d="M1817 1389.5 L1817 1371 Q1817 1365.5 1822 1365.5 L1829 1365.5 Q1834 1365.5 1834 1371 L1834 1389.5Z" fill="#4d4f50" opacity="0.42"/>
<path d="M1849.5 1389.5 L1849.5 1371 Q1849.5 1365.5 1854.5 1365.5 L1861 1365.5 Q1866 1365.5 1866 1371 L1866 1389.5Z" fill="#4d4f50" opacity="0.42"/>
<path d="M1874 1389.5 L1874 1371 Q1874 1365.5 1879 1365.5 L1887.5 1365.5 Q1892.5 1365.5 1892.5 1371 L1892.5 1389.5Z" fill="#4d4f50" opacity="0.42"/>
<rect x="1834" y="1365.5" width="15.5" height="8" fill="#4d4f50" opacity="0.42"/>
<rect x="1749" y="1368" width="5.5" height="2.6" fill="#59657a" opacity="0.4"/>
<rect x="1758" y="1368" width="5.5" height="2.6" fill="#59657a" opacity="0.4"/>
<rect x="1767" y="1368" width="5.5" height="2.6" fill="#59657a" opacity="0.4"/>
<rect x="1776" y="1368" width="5.5" height="2.6" fill="#59657a" opacity="0.4"/>
<rect x="1904" y="1368" width="5.5" height="2.6" fill="#59657a" opacity="0.4"/>
<rect x="1913" y="1368" width="5.5" height="2.6" fill="#59657a" opacity="0.4"/>
<rect x="1922" y="1368" width="5.5" height="2.6" fill="#59657a" opacity="0.4"/>
<rect x="1931" y="1368" width="5.5" height="2.6" fill="#59657a" opacity="0.4"/>
<path d="M1801 1392 L1882 1392 L1896 1406 L1787 1406Z" fill="#cfc9b4" opacity="0.45"/>
<path d="M1795 1391 L1802 1391 L1794 1406 L1786 1406Z" fill="#a9a491" opacity="0.55"/>
<path d="M1881 1391 L1888 1391 L1897 1406 L1889 1406Z" fill="#a9a491" opacity="0.55"/>
<rect x="1730" y="1405" width="226" height="4" fill="#d4ceb8" opacity="0.5"/>
</g>
</svg>
</body></html>
